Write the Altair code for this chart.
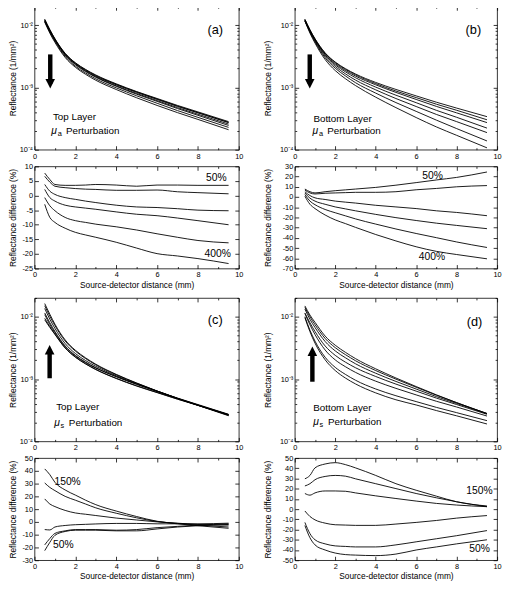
import altair as alt
import pandas as pd

FONT = "Liberation Sans"

# source-detector distances (mm) at which every curve is read
X = [0.5, 0.75, 1, 1.5, 2, 2.5, 3, 4, 5, 6, 7, 8, 9.5]

# unperturbed reflectance (1/mm^2), common to the four panels
BASELINE = [115e-4, 80e-4, 58e-4, 34e-4, 24e-4, 18.7e-4, 15.2e-4, 11.0e-4,
            8.3e-4, 6.4e-4, 4.95e-4, 3.9e-4, 2.72e-4]

# (a) top layer, mu_a perturbation: reflectance curves
A_REFL = [
    [123.9e-4, 84.4e-4, 60.2e-4, 35.2e-4, 24.8e-4, 19.4e-4, 15.8e-4, 11.4e-4, 8.57e-4, 6.63e-4, 5.13e-4, 4.04e-4, 2.82e-4],
    [122.6e-4, 83.7e-4, 59.9e-4, 34.9e-4, 24.6e-4, 19.1e-4, 15.5e-4, 11.2e-4, 8.45e-4, 6.52e-4, 5.01e-4, 3.94e-4, 2.74e-4],
    [119.4e-4, 81.2e-4, 58.2e-4, 33.8e-4, 23.7e-4, 18.3e-4, 14.8e-4, 10.6e-4, 7.98e-4, 6.14e-4, 4.73e-4, 3.71e-4, 2.58e-4],
    [117.4e-4, 79.4e-4, 56.9e-4, 32.9e-4, 23.1e-4, 17.9e-4, 14.5e-4, 10.4e-4, 7.77e-4, 5.96e-4, 4.57e-4, 3.56e-4, 2.45e-4],
    [114.2e-4, 77.2e-4, 55.0e-4, 31.5e-4, 21.9e-4, 17.0e-4, 13.7e-4, 9.82e-4, 7.32e-4, 5.56e-4, 4.24e-4, 3.30e-4, 2.28e-4],
    [111.6e-4, 74.0e-4, 52.7e-4, 30.2e-4, 21.0e-4, 16.2e-4, 13.0e-4, 9.24e-4, 6.81e-4, 5.13e-4, 3.93e-4, 3.06e-4, 2.09e-4],
]
# (a) reflectance difference (%)
A_DIFF = [
    [7.7, 5.5, 3.8, 3.5, 3.5, 3.6, 3.8, 3.6, 3.2, 3.6, 3.6, 3.5, 3.5],
    [6.6, 4.6, 3.2, 2.7, 2.4, 2.2, 2.1, 1.8, 1.8, 1.9, 1.3, 1.0, 0.6],
    [3.8, 1.5, 0.4, -0.7, -1.3, -1.9, -2.4, -3.3, -3.9, -4.1, -4.5, -5.0, -5.2],
    [2.1, -0.7, -1.9, -3.3, -3.9, -4.3, -4.7, -5.6, -6.4, -6.9, -7.7, -8.6, -10.0],
    [-0.7, -3.5, -5.2, -7.5, -8.6, -9.2, -9.8, -10.7, -11.8, -13.1, -14.3, -15.4, -16.2],
    [-3.0, -7.5, -9.2, -11.2, -12.6, -13.5, -14.3, -16.0, -18.0, -19.9, -20.7, -21.6, -23.3],
]

# (b) bottom layer, mu_a perturbation
B_REFL = [
    [124.0e-4, 84.2e-4, 60.3e-4, 35.8e-4, 25.5e-4, 20.0e-4, 16.4e-4, 12.0e-4, 9.26e-4, 7.30e-4, 5.78e-4, 4.65e-4, 3.39e-4],
    [122.8e-4, 83.2e-4, 59.7e-4, 35.3e-4, 25.0e-4, 19.5e-4, 15.9e-4, 11.5e-4, 8.73e-4, 6.85e-4, 5.37e-4, 4.29e-4, 3.02e-4],
    [121.0e-4, 81.1e-4, 57.5e-4, 33.2e-4, 23.0e-4, 17.8e-4, 14.3e-4, 10.1e-4, 7.49e-4, 5.68e-4, 4.28e-4, 3.31e-4, 2.22e-4],
    [119.6e-4, 79.1e-4, 55.7e-4, 31.6e-4, 21.7e-4, 16.5e-4, 13.1e-4, 9.13e-4, 6.62e-4, 4.93e-4, 3.68e-4, 2.82e-4, 1.88e-4],
    [117.8e-4, 76.8e-4, 53.7e-4, 29.9e-4, 20.3e-4, 15.3e-4, 11.9e-4, 8.09e-4, 5.70e-4, 4.12e-4, 2.98e-4, 2.18e-4, 1.38e-4],
    [115.9e-4, 74.3e-4, 51.4e-4, 28.0e-4, 18.6e-4, 13.8e-4, 10.7e-4, 6.96e-4, 4.73e-4, 3.28e-4, 2.32e-4, 1.70e-4, 1.07e-4],
]
B_DIFF = [
    [7.8, 5.2, 4.0, 5.2, 6.2, 7.0, 7.8, 9.4, 11.6, 14.1, 16.7, 19.2, 24.5],
    [6.8, 4.0, 3.0, 3.7, 4.0, 4.3, 4.6, 4.6, 5.2, 7.1, 8.4, 10.0, 11.2],
    [5.2, 1.4, -0.8, -2.4, -4.0, -5.0, -5.9, -8.1, -9.7, -11.3, -13.5, -15.1, -18.3],
    [4.0, -1.1, -4.0, -7.1, -9.7, -11.6, -13.5, -17.0, -20.2, -23.0, -25.6, -27.8, -31.0],
    [2.4, -4.0, -7.5, -12.2, -15.4, -18.4, -21.4, -26.5, -31.3, -35.7, -39.8, -44.0, -49.4],
    [0.8, -7.1, -11.3, -17.6, -22.4, -26.0, -29.7, -36.7, -43.0, -48.7, -53.2, -56.3, -60.5],
]

# (c) top layer, mu_s perturbation
C_REFL = [
    [162.7e-4, 109.6e-4, 76.0e-4, 42.5e-4, 29.0e-4, 21.9e-4, 17.3e-4, 11.9e-4, 8.65e-4, 6.43e-4, 4.88e-4, 3.78e-4, 2.58e-4],
    [150.1e-4, 101.6e-4, 72.2e-4, 40.8e-4, 28.1e-4, 21.3e-4, 16.9e-4, 11.7e-4, 8.57e-4, 6.42e-4, 4.89e-4, 3.80e-4, 2.61e-4],
    [135.7e-4, 91.2e-4, 65.0e-4, 37.1e-4, 25.7e-4, 19.8e-4, 16.0e-4, 11.3e-4, 8.42e-4, 6.40e-4, 4.90e-4, 3.82e-4, 2.65e-4],
    [108.1e-4, 75.0e-4, 55.7e-4, 33.0e-4, 23.5e-4, 18.3e-4, 15.0e-4, 10.9e-4, 8.20e-4, 6.30e-4, 4.88e-4, 3.84e-4, 2.69e-4],
    [94.3e-4, 69.6e-4, 52.8e-4, 31.6e-4, 22.6e-4, 17.6e-4, 14.3e-4, 10.3e-4, 7.80e-4, 6.11e-4, 4.78e-4, 3.80e-4, 2.68e-4],
    [89.1e-4, 67.2e-4, 51.9e-4, 31.5e-4, 22.4e-4, 17.5e-4, 14.2e-4, 10.2e-4, 7.72e-4, 6.05e-4, 4.75e-4, 3.78e-4, 2.67e-4],
]
C_DIFF = [
    [41.5, 37, 31, 25, 21, 17, 13.5, 8.5, 4.2, 0.5, -1.5, -3, -5],
    [30.5, 27, 24.5, 20, 17, 14, 11, 6.8, 3.2, 0.3, -1.2, -2.5, -4],
    [18, 14, 12, 9, 7, 6, 5, 3, 1.5, 0, -1, -2, -2.5],
    [-6, -6.3, -4, -2.8, -2.2, -1.9, -1.6, -1.2, -1.2, -1.5, -1.5, -1.5, -1],
    [-18, -13, -9, -7, -6, -6, -6, -6.5, -6, -4.5, -3.5, -2.5, -1.5],
    [-22.5, -16, -10.5, -7.5, -6.5, -6.5, -6.5, -7, -7, -5.5, -4, -3, -2],
]

# (d) bottom layer, mu_s perturbation
D_REFL = [
    [149.2e-4, 106.4e-4, 81.4e-4, 49.0e-4, 34.9e-4, 26.9e-4, 21.3e-4, 14.6e-4, 10.4e-4, 7.58e-4, 5.58e-4, 4.18e-4, 2.80e-4],
    [141.1e-4, 99.9e-4, 74.7e-4, 44.9e-4, 31.9e-4, 24.7e-4, 19.7e-4, 13.7e-4, 9.97e-4, 7.38e-4, 5.50e-4, 4.18e-4, 2.79e-4],
    [132.6e-4, 91.0e-4, 67.2e-4, 40.1e-4, 28.3e-4, 22.0e-4, 17.6e-4, 12.4e-4, 9.16e-4, 6.91e-4, 5.23e-4, 4.06e-4, 2.79e-4],
    [112.9e-4, 74.2e-4, 51.9e-4, 29.3e-4, 20.3e-4, 15.8e-4, 12.8e-4, 9.25e-4, 7.09e-4, 5.57e-4, 4.40e-4, 3.56e-4, 2.55e-4],
    [100.1e-4, 60.8e-4, 40.6e-4, 22.4e-4, 15.4e-4, 11.9e-4, 9.58e-4, 6.93e-4, 5.40e-4, 4.35e-4, 3.51e-4, 2.89e-4, 2.15e-4],
    [96.6e-4, 57.6e-4, 37.7e-4, 20.4e-4, 13.7e-4, 10.4e-4, 8.36e-4, 6.00e-4, 4.65e-4, 3.84e-4, 3.12e-4, 2.57e-4, 1.90e-4],
]
D_DIFF = [
    [29.7, 33, 40.4, 44.2, 45.5, 43.6, 40.4, 33, 24.9, 18.5, 12.7, 7.2, 3.1],
    [22.7, 24.9, 28.8, 32, 33, 32.3, 29.7, 24.9, 20.1, 15.3, 11.1, 7.2, 2.4],
    [15.3, 13.7, 15.9, 17.8, 17.8, 17.5, 15.9, 13, 10.4, 7.9, 5.6, 4, 2.4],
    [-1.8, -7.2, -10.5, -13.7, -15.3, -15.6, -15.9, -15.9, -14.6, -13, -11.1, -8.8, -6.3],
    [-13, -24, -30, -34, -36, -36.5, -37, -37, -35, -32, -29, -26, -21],
    [-16, -28, -35, -40, -43, -44.5, -45, -45.5, -44, -40, -37, -34, -30],
]

# axis ticks
X_TICKS = [0, 2, 4, 6, 8, 10]
X_MINOR = [1, 3, 5, 7, 9]
LOG_TICKS = [1e-4, 1e-3, 1e-2]
LOG_MINOR = [2e-4, 3e-4, 4e-4, 5e-4, 6e-4, 7e-4, 8e-4, 9e-4,
             2e-3, 3e-3, 4e-3, 5e-3, 6e-3, 7e-3, 8e-3, 9e-3, 2e-2]
A_DIFF_TICKS = [-25, -20, -15, -10, -5, 0, 5, 10]
B_DIFF_TICKS = [-70, -60, -50, -40, -30, -20, -10, 0, 10, 20, 30]
C_DIFF_TICKS = [-30, -20, -10, 0, 10, 20, 30, 40, 50]
D_DIFF_TICKS = [-50, -40, -30, -20, -10, 0, 10, 20, 30, 40, 50]

# annotations: [text, x, y]
A_LETTER = ["(a)", 8.85, 0.0083]
B_LETTER = ["(b)", 8.83, 0.0083]
C_LETTER = ["(c)", 8.85, 0.0087]
D_LETTER = ["(d)", 8.88, 0.0083]
A_LAYER = ["Top Layer", 0.9, 3.3e-4]
B_LAYER = ["Bottom Layer", 0.92, 3.1e-4]
C_LAYER = ["Top Layer", 1.06, 3.56e-4]
D_LAYER = ["Bottom Layer", 0.91, 3.43e-4]
A_PERT = ["a", 0.82, 2.0e-4]
B_PERT = ["a", 0.88, 2.0e-4]
C_PERT = ["s", 0.96, 1.95e-4]
D_PERT = ["s", 0.91, 2.07e-4]
# arrows: [x, tail y, head y]
A_ARROW = [0.77, 0.00338, 0.00114]
B_ARROW = [0.74, 0.00338, 0.00114]
C_ARROW = [0.74, 0.00103, 0.00295]
D_ARROW = [0.87, 0.000906, 0.00279]
A_PCT = [["50%", 8.9, 5.96], ["400%", 8.97, -20.05]]
B_PCT = [["50%", 6.81, 21.0], ["400%", 6.78, -58.5]]
C_PCT = [["150%", 1.62, 31.0], ["50%", 1.41, -18.2]]
D_PCT = [["150%", 9.13, 17.6], ["50%", 9.13, -39.4]]

A_DIFF_DOMAIN = [-25, 10]
B_DIFF_DOMAIN = [-70, 30]
C_DIFF_DOMAIN = [-30, 50]
D_DIFF_DOMAIN = [-50, 50]

H_TOP = 146
H_BOT = 104
W_LEFT = 208
W_RIGHT = 206
EXT_LEFT = 17
EXT_RIGHT = 23

LOG_LABEL = "datum.value < 0.0005 ? '10\u207b\u2074' : datum.value < 0.005 ? '10\u207b\u00b3' : '10\u207b\u00b2'"


def curves_frame(curves):
    rows = []
    for i, ys in enumerate(curves):
        for x, y in zip(X, ys):
            rows.append({"x": x, "y": y, "curve": i})
    return pd.DataFrame(rows)


def xscale():
    return alt.Scale(domain=[0, 10], nice=False, zero=False)


def mirror_layers(dummy, ys, W, H, y_major, y_minor):
    out = []
    specs = [("top", "right", X_TICKS, y_major, 4),
             ("bottom", "left", X_TICKS, y_major, 4),
             ("top", "right", X_MINOR, y_minor, 2),
             ("bottom", "left", X_MINOR, y_minor, 2)]
    for xo, yo, xv, yv, size in specs:
        xax = alt.Axis(orient=xo, offset=-H, values=xv, labels=False, ticks=True,
                       tickSize=size, domain=False, title=None, minExtent=0, maxExtent=0)
        if yv:
            yax = alt.Axis(orient=yo, offset=-W, values=yv, labels=False, ticks=True,
                           tickSize=size, domain=False, title=None, minExtent=0, maxExtent=0)
            yenc = alt.Y("y:Q", scale=ys, axis=yax)
        else:
            yenc = alt.Y("y:Q", scale=ys, axis=None)
        out.append(alt.Chart(dummy).mark_point(opacity=0).encode(
            x=alt.X("x:Q", scale=xscale(), axis=xax), y=yenc))
    return out


def text_layer(rows, ys, **kw):
    df = pd.DataFrame({"t": [r[0] for r in rows], "x": [r[1] for r in rows],
                       "y": [r[2] for r in rows]})
    return alt.Chart(df).mark_text(font=FONT, color="black", baseline="middle", **kw).encode(
        x=alt.X("x:Q", scale=xscale(), axis=None),
        y=alt.Y("y:Q", scale=ys, axis=None),
        text="t:N")


def top_panel(curves, letter, layer, pert, arrow, up, W, ext):
    H = H_TOP
    ys = alt.Scale(type="log", domain=[1e-4, 0.02], nice=False)
    df = curves_frame(curves)
    lines = alt.Chart(df).mark_line(color="black", strokeWidth=0.9, interpolate="monotone").encode(
        x=alt.X("x:Q", scale=xscale(),
                axis=alt.Axis(orient="bottom", values=X_TICKS, ticks=False, domain=False,
                              labelPadding=2.5, title=None)),
        y=alt.Y("y:Q", scale=ys,
                axis=alt.Axis(orient="left", values=LOG_TICKS, labelExpr=LOG_LABEL, ticks=False,
                              domain=False, labelPadding=2, minExtent=ext, maxExtent=ext,
                              title="Reflectance (1/mm\u00b2)", titlePadding=0)),
        detail="curve:N")
    letter_l = text_layer([letter], ys, fontSize=13, align="center")
    layer_l = text_layer([layer], ys, fontSize=10, align="left")
    mu_l = text_layer([["\u03bc", pert[1], pert[2]]], ys, fontSize=10.5, align="left",
                      fontStyle="italic")
    sub_l = text_layer([pert], ys, fontSize=7.5, align="left", dx=6.5, dy=3)
    pert_l = text_layer([["Perturbation", pert[1], pert[2]]], ys, fontSize=10, align="left", dx=15)
    shaft_df = pd.DataFrame({"x": [arrow[0]], "y": [arrow[1]], "y2": [arrow[2]]})
    shaft = alt.Chart(shaft_df).mark_rule(color="black", strokeWidth=4.5).encode(
        x=alt.X("x:Q", scale=xscale(), axis=None),
        y=alt.Y("y:Q", scale=ys, axis=None), y2="y2:Q")
    head_df = pd.DataFrame({"x": [arrow[0]], "y": [arrow[2]]})
    shape = "M-1,1L1,1L0,-1Z" if up else "M-1,-1L1,-1L0,1Z"
    head = alt.Chart(head_df).mark_point(shape=shape, size=95, filled=True, color="black",
                                         opacity=1, strokeWidth=0).encode(
        x=alt.X("x:Q", scale=xscale(), axis=None),
        y=alt.Y("y:Q", scale=ys, axis=None))
    dummy = pd.DataFrame({"x": [X[0]], "y": [curves[0][0]]})
    layers = [lines, letter_l, layer_l, mu_l, sub_l, pert_l, shaft, head]
    layers += mirror_layers(dummy, ys, W, H, LOG_TICKS, LOG_MINOR)
    return alt.layer(*layers).properties(width=W, height=H).resolve_axis(
        x="independent", y="independent")


def bottom_panel(curves, domain, ticks, pct, W, ext):
    H = H_BOT
    ys = alt.Scale(domain=domain, nice=False, zero=False)
    df = curves_frame(curves)
    lines = alt.Chart(df).mark_line(color="black", strokeWidth=0.9, interpolate="monotone").encode(
        x=alt.X("x:Q", scale=xscale(),
                axis=alt.Axis(orient="bottom", values=X_TICKS, ticks=False, domain=False,
                              labelPadding=2.5, title="Source-detector distance (mm)",
                              titlePadding=2)),
        y=alt.Y("y:Q", scale=ys,
                axis=alt.Axis(orient="left", values=ticks, labelExpr="'' + datum.value",
                              ticks=False, domain=False, labelPadding=2, minExtent=ext,
                              maxExtent=ext, title="Reflectance difference (%)", titlePadding=0)),
        detail="curve:N")
    pct_l = text_layer(pct, ys, fontSize=10.5, align="center")
    dummy = pd.DataFrame({"x": [X[0]], "y": [curves[0][0]]})
    layers = [lines, pct_l] + mirror_layers(dummy, ys, W, H, ticks, [])
    return alt.layer(*layers).properties(width=W, height=H).resolve_axis(
        x="independent", y="independent")


a_top = top_panel([BASELINE] + A_REFL, A_LETTER, A_LAYER, A_PERT, A_ARROW, False, W_LEFT, EXT_LEFT)
a_bot = bottom_panel(A_DIFF, A_DIFF_DOMAIN, A_DIFF_TICKS, A_PCT, W_LEFT, EXT_LEFT)
b_top = top_panel([BASELINE] + B_REFL, B_LETTER, B_LAYER, B_PERT, B_ARROW, False, W_RIGHT, EXT_RIGHT)
b_bot = bottom_panel(B_DIFF, B_DIFF_DOMAIN, B_DIFF_TICKS, B_PCT, W_RIGHT, EXT_RIGHT)
c_top = top_panel([BASELINE] + C_REFL, C_LETTER, C_LAYER, C_PERT, C_ARROW, True, W_LEFT, EXT_LEFT)
c_bot = bottom_panel(C_DIFF, C_DIFF_DOMAIN, C_DIFF_TICKS, C_PCT, W_LEFT, EXT_LEFT)
d_top = top_panel([BASELINE] + D_REFL, D_LETTER, D_LAYER, D_PERT, D_ARROW, True, W_RIGHT, EXT_RIGHT)
d_bot = bottom_panel(D_DIFF, D_DIFF_DOMAIN, D_DIFF_TICKS, D_PCT, W_RIGHT, EXT_RIGHT)

S_IN = 1
S_OUT = 8
S_H = 19


def column(t1, b1, t2, b2):
    return alt.vconcat(alt.vconcat(t1, b1, spacing=S_IN),
                       alt.vconcat(t2, b2, spacing=S_IN), spacing=S_OUT)


chart = alt.hconcat(column(a_top, a_bot, c_top, c_bot),
                    column(b_top, b_bot, d_top, d_bot), spacing=S_H)
chart = chart.properties(
    padding={"left": 0, "top": -8, "right": 0, "bottom": 0}
).configure_view(
    stroke="black", strokeWidth=0.8
).configure_axis(
    labelFont=FONT, labelFontSize=7.5, labelColor="black",
    titleFont=FONT, titleFontSize=8.5, titleFontWeight="normal", titleColor="black",
    tickColor="black", tickWidth=0.8, grid=False, labelFlush=False, labelOverlap=False
)

chart.save("out.html", embed_options={"renderer": "svg", "actions": False})
